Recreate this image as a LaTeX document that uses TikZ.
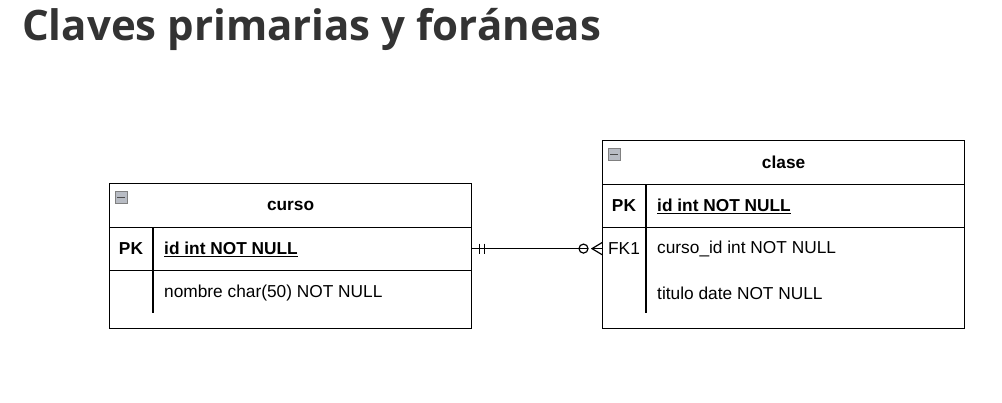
\documentclass[tikz,border=0pt]{standalone}
\usepackage{fontspec}
\setmainfont{Liberation Sans}
\newfontfamily\titlefont{Open Sans}
\definecolor{titlegray}{HTML}{333333}
\definecolor{icongray}{HTML}{B8BCC4}
\begin{document}
\begin{tikzpicture}[x=1pt, y=-1pt]
    % Define styles
    \tikzset{
        tablerow/.style={draw, line width=1.2pt, anchor=north west, minimum width=362pt, inner sep=0pt},
        headtext/.style={font=\fontsize{17.3}{20}\selectfont\bfseries},
        fieldtext/.style={font=\fontsize{17.3}{20}\selectfont, anchor=west, inner sep=0pt},
        divider/.style={line width=1.2pt},
        collapsebox/.style={draw=gray, fill=icongray, minimum width=12pt, minimum height=12pt, inner sep=0pt, anchor=north west},
        relline/.style={line width=1.2pt}
    }
    \useasboundingbox (0,0) rectangle (1002,402);

    % Title
    \node[anchor=west, inner sep=0pt, text=titlegray, font=\titlefont\fontsize{42}{48}\selectfont\bfseries] (title) at (22,29) {Claves primarias y foráneas};

    % Table curso
    \node[tablerow, minimum height=44pt, headtext, text depth=0pt] (cursohead) at (109,183) {curso};
    \node[tablerow, minimum height=43pt] (cursopk) at (109,227) {};
    \node[tablerow, minimum height=58pt] (cursorest) at (109,270) {};
    \draw[divider] (153,227) -- (153,313);
    \node[collapsebox] (cursoicon) at (115,191) {};
    \draw[line width=1pt, black!70] ([xshift=2pt]cursoicon.west) -- ([xshift=-2pt]cursoicon.east);
    \node[headtext] (cursopklabel) at (131,249) {PK};
    \node[fieldtext, font=\fontsize{17.3}{20}\selectfont\bfseries] (cursoid) at (164,249) {\underline{id int NOT NULL}};
    \node[fieldtext] (cursonombre) at (164,293) {nombre char(50) NOT NULL};

    % Table clase
    \node[tablerow, minimum height=44pt, headtext, text depth=0pt] (clasehead) at (602,140) {clase};
    \node[tablerow, minimum height=43pt] (clasepk) at (602,184) {};
    \node[tablerow, minimum height=101pt] (claserest) at (602,227) {};
    \draw[divider] (646,184) -- (646,313);
    \node[collapsebox] (claseicon) at (608,148) {};
    \draw[line width=1pt, black!70] ([xshift=2pt]claseicon.west) -- ([xshift=-2pt]claseicon.east);
    \node[headtext] (clasepklabel) at (624,206) {PK};
    \node[fieldtext, font=\fontsize{17.3}{20}\selectfont\bfseries] (claseid) at (657,206) {\underline{id int NOT NULL}};
    \node[font=\fontsize{17.3}{20}\selectfont] (clasefk) at (624,249) {FK1};
    \node[fieldtext] (clasecurso) at (657,249) {curso\_id int NOT NULL};
    \node[fieldtext] (clasetitulo) at (657,293) {titulo date NOT NULL};

    % Relationship curso -> clase (one and only one to zero or many)
    \coordinate (relstart) at ([yshift=0.5pt]cursopk.east);
    \coordinate (relend) at (relstart -| claserest.west);
    \draw[relline] (relstart) -- ([xshift=-14pt]relend);
    \draw[relline] ([xshift=7pt,yshift=5pt]relstart) -- ++(0,10);
    \draw[relline] ([xshift=12pt,yshift=5pt]relstart) -- ++(0,10);
    \draw[relline] ([xshift=-14pt]relend) ++(-4.5,0) circle (4.5pt);
    \draw[relline] ([xshift=-10pt]relend) -- (relend);
    \draw[relline] ([yshift=-6pt]relend) -- ([xshift=-10pt]relend) -- ([yshift=6pt]relend);
\end{tikzpicture}
\end{document}
